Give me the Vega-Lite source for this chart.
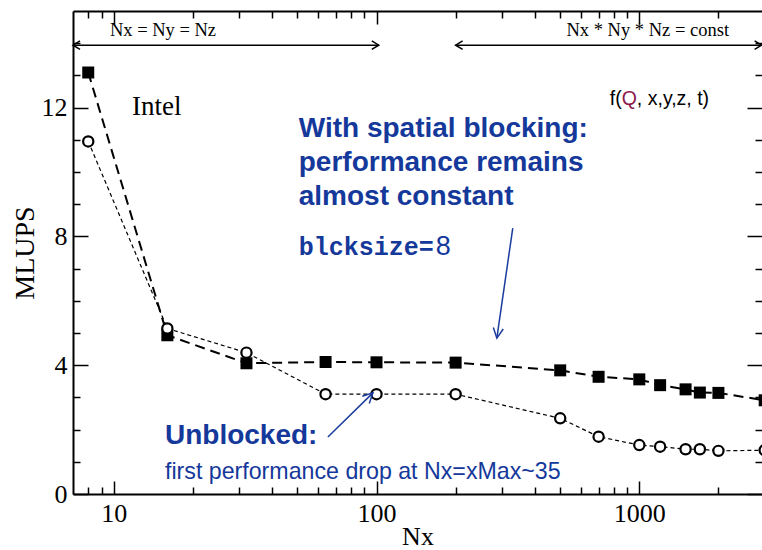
{
  "$schema": "https://vega.github.io/schema/vega-lite/v6.json",
  "width": 689,
  "height": 483,
  "autosize": "none",
  "padding": {"left": 73, "top": 11, "right": 0, "bottom": 56},
  "background": "white",
  "config": {
    "view": {"stroke": null},
    "axis": {
      "grid": false,
      "domain": false,
      "domainColor": "black",
      "domainWidth": 2,
      "tickColor": "black",
      "tickWidth": 1.5,
      "labelFont": "Liberation Serif",
      "labelFontSize": 26,
      "labelColor": "black",
      "labelFlush": false,
      "labelOverlap": false,
      "titleFont": "Liberation Serif",
      "titleFontWeight": "normal",
      "titleColor": "black"
    }
  },
  "datasets": {
    "perf": [
      {"Nx": 8, "MLUPS": 13.09, "variant": "blocked"},
      {"Nx": 16, "MLUPS": 4.93, "variant": "blocked"},
      {"Nx": 32, "MLUPS": 4.06, "variant": "blocked"},
      {"Nx": 64, "MLUPS": 4.1, "variant": "blocked"},
      {"Nx": 100, "MLUPS": 4.09, "variant": "blocked"},
      {"Nx": 200, "MLUPS": 4.08, "variant": "blocked"},
      {"Nx": 500, "MLUPS": 3.84, "variant": "blocked"},
      {"Nx": 700, "MLUPS": 3.64, "variant": "blocked"},
      {"Nx": 1000, "MLUPS": 3.56, "variant": "blocked"},
      {"Nx": 1200, "MLUPS": 3.38, "variant": "blocked"},
      {"Nx": 1500, "MLUPS": 3.25, "variant": "blocked"},
      {"Nx": 1700, "MLUPS": 3.15, "variant": "blocked"},
      {"Nx": 2000, "MLUPS": 3.14, "variant": "blocked"},
      {"Nx": 3000, "MLUPS": 2.91, "variant": "blocked"},
      {"Nx": 8, "MLUPS": 10.95, "variant": "unblocked"},
      {"Nx": 16, "MLUPS": 5.14, "variant": "unblocked"},
      {"Nx": 32, "MLUPS": 4.39, "variant": "unblocked"},
      {"Nx": 64, "MLUPS": 3.1, "variant": "unblocked"},
      {"Nx": 100, "MLUPS": 3.1, "variant": "unblocked"},
      {"Nx": 200, "MLUPS": 3.1, "variant": "unblocked"},
      {"Nx": 500, "MLUPS": 2.35, "variant": "unblocked"},
      {"Nx": 700, "MLUPS": 1.78, "variant": "unblocked"},
      {"Nx": 1000, "MLUPS": 1.52, "variant": "unblocked"},
      {"Nx": 1200, "MLUPS": 1.47, "variant": "unblocked"},
      {"Nx": 1500, "MLUPS": 1.39, "variant": "unblocked"},
      {"Nx": 1700, "MLUPS": 1.39, "variant": "unblocked"},
      {"Nx": 2000, "MLUPS": 1.34, "variant": "unblocked"},
      {"Nx": 3000, "MLUPS": 1.36, "variant": "unblocked"}
    ],
    "notes": [
      {"id": "intel", "Nx": 11.74, "MLUPS": 11.77, "text": "Intel"},
      {"id": "cubic", "Nx": 15.4, "MLUPS": 14.21, "text": "Nx = Ny = Nz"},
      {"id": "const", "Nx": 1077, "MLUPS": 14.21, "text": "Nx * Ny * Nz = const"},
      {"id": "blocked", "Nx": 50.6, "MLUPS": 11.09, "text": "With spatial blocking:"},
      {"id": "blocked", "Nx": 50.6, "MLUPS": 10.02, "text": "performance remains"},
      {"id": "blocked", "Nx": 50.6, "MLUPS": 8.98, "text": "almost constant"},
      {"id": "blcksize", "Nx": 50.6, "MLUPS": 7.41, "text": "blcksize="},
      {"id": "blcksizeValue", "Nx": 50.6, "MLUPS": 7.41, "text": "8"},
      {"id": "unblocked", "Nx": 15.67, "MLUPS": 1.55, "text": "Unblocked:"},
      {"id": "drop", "Nx": 15.67, "MLUPS": 0.466, "text": "first performance drop at Nx=xMax~35"},
      {"id": "fopen", "Nx": 772, "MLUPS": 12.08, "text": "f("},
      {"id": "fq", "Nx": 772, "MLUPS": 12.08, "text": "Q"},
      {"id": "fargs", "Nx": 772, "MLUPS": 12.08, "text": ", x,y,z, t)"}
    ],
    "arrows": [
      {"id": "cubic", "Nx": 7, "MLUPS": 13.94, "Nx2": 102, "MLUPS2": 13.94},
      {"id": "const", "Nx": 200, "MLUPS": 13.94, "Nx2": 2920, "MLUPS2": 13.94},
      {"id": "blockedArrow", "Nx": 330, "MLUPS": 8.26, "Nx2": 287, "MLUPS2": 4.84},
      {"id": "unblockedArrow", "Nx": 65.3, "MLUPS": 1.77, "Nx2": 96.9, "MLUPS2": 3.14}
    ]
  },
  "layer": [
    {
      "data": {"name": "perf"},
      "transform": [{"filter": "datum.variant === 'blocked'"}],
      "mark": {"type": "line", "color": "black", "strokeWidth": 2, "strokeDash": [10, 6]},
      "encoding": {
        "x": {"field": "Nx", "type": "quantitative",
          "scale": {"type": "log", "domain": [7, 2930], "nice": false},
          "axis": {"orient": "bottom", "values": [10, 100, 1000], "format": "d", "domain": true,
            "tickSize": -13, "labelPadding": 19, "title": "Nx", "titleFontSize": 26,
            "titleY": 50, "titleBaseline": "alphabetic"}},
        "y": {"field": "MLUPS", "type": "quantitative",
          "scale": {"domain": [0, 15], "nice": false},
          "axis": {"orient": "left", "values": [0, 4, 8, 12], "domain": true,
            "tickSize": -15, "labelPadding": 21, "title": "MLUPS", "titleFontSize": 28,
            "titleX": -40, "titleBaseline": "alphabetic"}}
      }
    },
    {
      "data": {"name": "perf"},
      "transform": [{"filter": "datum.variant === 'unblocked'"}],
      "mark": {"type": "line", "color": "black", "strokeWidth": 1.2, "strokeDash": [4, 3]},
      "encoding": {
        "x": {"field": "Nx", "type": "quantitative",
          "scale": {"type": "log", "domain": [7, 2930], "nice": false},
          "axis": {"orient": "top", "values": [10, 100, 1000], "domain": true,
            "tickSize": -13, "labels": false, "title": null}},
        "y": {"field": "MLUPS", "type": "quantitative",
          "scale": {"domain": [0, 15], "nice": false},
          "axis": {"orient": "right", "values": [0, 4, 8, 12],
            "tickSize": -15, "labels": false, "title": null}}
      }
    },
    {
      "data": {"name": "perf"},
      "transform": [{"filter": "datum.variant === 'blocked'"}],
      "mark": {"type": "point", "shape": "square", "filled": true, "color": "black", "size": 144, "opacity": 1},
      "encoding": {
        "x": {"field": "Nx", "type": "quantitative",
          "scale": {"type": "log", "domain": [7, 2930], "nice": false},
          "axis": {"orient": "bottom", "values": [8, 9, 20, 30, 40, 50, 60, 70, 80, 90, 200, 300, 400, 500, 600, 700, 800, 900, 2000],
            "tickSize": -7, "labels": false, "title": null}},
        "y": {"field": "MLUPS", "type": "quantitative",
          "scale": {"domain": [0, 15], "nice": false},
          "axis": {"orient": "left", "values": [1, 2, 3, 5, 6, 7, 9, 10, 11, 13, 14],
            "tickSize": -7, "labels": false, "title": null}}
      }
    },
    {
      "data": {"name": "perf"},
      "transform": [{"filter": "datum.variant === 'unblocked'"}],
      "mark": {"type": "point", "shape": "circle", "filled": true, "fill": "white", "stroke": "black", "strokeWidth": 2.2, "size": 105, "opacity": 1},
      "encoding": {
        "x": {"field": "Nx", "type": "quantitative",
          "scale": {"type": "log", "domain": [7, 2930], "nice": false},
          "axis": {"orient": "top", "values": [8, 9, 20, 30, 40, 50, 60, 70, 80, 90, 200, 300, 400, 500, 600, 700, 800, 900, 2000],
            "tickSize": -7, "labels": false, "title": null}},
        "y": {"field": "MLUPS", "type": "quantitative",
          "scale": {"domain": [0, 15], "nice": false},
          "axis": {"orient": "right", "values": [1, 2, 3, 5, 6, 7, 9, 10, 11, 13, 14],
            "tickSize": -7, "labels": false, "title": null}}
      }
    },
    {
      "data": {"name": "arrows"},
      "transform": [{"filter": "datum.id === 'cubic' || datum.id === 'const'"}],
      "mark": {"type": "rule", "color": "black", "strokeWidth": 1.5},
      "encoding": {
        "x": {"field": "Nx", "type": "quantitative", "scale": {"type": "log", "domain": [7, 2930], "nice": false}, "axis": null},
        "x2": {"field": "Nx2"},
        "y": {"field": "MLUPS", "type": "quantitative", "scale": {"domain": [0, 15], "nice": false}, "axis": null},
        "y2": {"field": "MLUPS2"}
      }
    },
    {
      "data": {"name": "arrows"},
      "transform": [{"filter": "datum.id === 'cubic' || datum.id === 'const'"}],
      "mark": {"type": "point", "shape": "M-1,-0.6L0,0L-1,0.6", "filled": false, "color": "black", "strokeWidth": 1.5, "size": 196, "opacity": 1, "angle": 0},
      "encoding": {
        "x": {"field": "Nx2", "type": "quantitative", "scale": {"type": "log", "domain": [7, 2930], "nice": false}, "axis": null},
        "y": {"field": "MLUPS2", "type": "quantitative", "scale": {"domain": [0, 15], "nice": false}, "axis": null}
      }
    },
    {
      "data": {"name": "arrows"},
      "transform": [{"filter": "datum.id === 'cubic' || datum.id === 'const'"}],
      "mark": {"type": "point", "shape": "M-1,-0.6L0,0L-1,0.6", "filled": false, "color": "black", "strokeWidth": 1.5, "size": 196, "opacity": 1, "angle": 180},
      "encoding": {
        "x": {"field": "Nx", "type": "quantitative", "scale": {"type": "log", "domain": [7, 2930], "nice": false}, "axis": null},
        "y": {"field": "MLUPS", "type": "quantitative", "scale": {"domain": [0, 15], "nice": false}, "axis": null}
      }
    },
    {
      "data": {"name": "arrows"},
      "transform": [{"filter": "datum.id === 'blockedArrow' || datum.id === 'unblockedArrow'"}],
      "mark": {"type": "rule", "color": "#1a3c9e", "strokeWidth": 1.5},
      "encoding": {
        "x": {"field": "Nx", "type": "quantitative", "scale": {"type": "log", "domain": [7, 2930], "nice": false}, "axis": null},
        "x2": {"field": "Nx2"},
        "y": {"field": "MLUPS", "type": "quantitative", "scale": {"domain": [0, 15], "nice": false}, "axis": null},
        "y2": {"field": "MLUPS2"}
      }
    },
    {
      "data": {"name": "arrows"},
      "transform": [{"filter": "datum.id === 'blockedArrow'"}],
      "mark": {"type": "point", "shape": "M-1,-0.5L0,0L-1,0.5", "filled": false, "color": "#1a3c9e", "strokeWidth": 1.5, "size": 400, "opacity": 1, "angle": 98.3},
      "encoding": {
        "x": {"field": "Nx2", "type": "quantitative", "scale": {"type": "log", "domain": [7, 2930], "nice": false}, "axis": null},
        "y": {"field": "MLUPS2", "type": "quantitative", "scale": {"domain": [0, 15], "nice": false}, "axis": null}
      }
    },
    {
      "data": {"name": "arrows"},
      "transform": [{"filter": "datum.id === 'unblockedArrow'"}],
      "mark": {"type": "point", "shape": "M-1,-0.5L0,0L-1,0.5", "filled": false, "color": "#1a3c9e", "strokeWidth": 1.5, "size": 400, "opacity": 1, "angle": 315.6},
      "encoding": {
        "x": {"field": "Nx2", "type": "quantitative", "scale": {"type": "log", "domain": [7, 2930], "nice": false}, "axis": null},
        "y": {"field": "MLUPS2", "type": "quantitative", "scale": {"domain": [0, 15], "nice": false}, "axis": null}
      }
    },
    {
      "data": {"name": "notes"},
      "transform": [{"filter": "datum.id === 'intel'"}],
      "mark": {"type": "text", "font": "Liberation Serif", "fontSize": 27, "color": "black", "align": "left", "baseline": "alphabetic"},
      "encoding": {
        "x": {"field": "Nx", "type": "quantitative", "scale": {"type": "log", "domain": [7, 2930], "nice": false}, "axis": null},
        "y": {"field": "MLUPS", "type": "quantitative", "scale": {"domain": [0, 15], "nice": false}, "axis": null},
        "text": {"field": "text"}
      }
    },
    {
      "data": {"name": "notes"},
      "transform": [{"filter": "datum.id === 'cubic' || datum.id === 'const'"}],
      "mark": {"type": "text", "font": "Liberation Serif", "fontSize": 18.5, "color": "black", "align": "center", "baseline": "alphabetic"},
      "encoding": {
        "x": {"field": "Nx", "type": "quantitative", "scale": {"type": "log", "domain": [7, 2930], "nice": false}, "axis": null},
        "y": {"field": "MLUPS", "type": "quantitative", "scale": {"domain": [0, 15], "nice": false}, "axis": null},
        "text": {"field": "text"}
      }
    },
    {
      "data": {"name": "notes"},
      "transform": [{"filter": "datum.id === 'blocked' || datum.id === 'unblocked'"}],
      "mark": {"type": "text", "font": "Liberation Sans", "fontWeight": "bold", "fontSize": 28, "color": "#15389b", "align": "left", "baseline": "alphabetic"},
      "encoding": {
        "x": {"field": "Nx", "type": "quantitative", "scale": {"type": "log", "domain": [7, 2930], "nice": false}, "axis": null},
        "y": {"field": "MLUPS", "type": "quantitative", "scale": {"domain": [0, 15], "nice": false}, "axis": null},
        "text": {"field": "text"}
      }
    },
    {
      "data": {"name": "notes"},
      "transform": [{"filter": "datum.id === 'drop'"}],
      "mark": {"type": "text", "font": "Liberation Sans", "fontSize": 23.2, "color": "#15389b", "align": "left", "baseline": "alphabetic"},
      "encoding": {
        "x": {"field": "Nx", "type": "quantitative", "scale": {"type": "log", "domain": [7, 2930], "nice": false}, "axis": null},
        "y": {"field": "MLUPS", "type": "quantitative", "scale": {"domain": [0, 15], "nice": false}, "axis": null},
        "text": {"field": "text"}
      }
    },
    {
      "data": {"name": "notes"},
      "transform": [{"filter": "datum.id === 'blcksize'"}],
      "mark": {"type": "text", "font": "Liberation Mono", "fontWeight": "bold", "fontSize": 25, "color": "#15389b", "align": "left", "baseline": "alphabetic"},
      "encoding": {
        "x": {"field": "Nx", "type": "quantitative", "scale": {"type": "log", "domain": [7, 2930], "nice": false}, "axis": null},
        "y": {"field": "MLUPS", "type": "quantitative", "scale": {"domain": [0, 15], "nice": false}, "axis": null},
        "text": {"field": "text"}
      }
    },
    {
      "data": {"name": "notes"},
      "transform": [{"filter": "datum.id === 'blcksizeValue'"}],
      "mark": {"type": "text", "font": "Liberation Sans", "fontSize": 27, "color": "#15389b", "align": "left", "baseline": "alphabetic", "dx": 137},
      "encoding": {
        "x": {"field": "Nx", "type": "quantitative", "scale": {"type": "log", "domain": [7, 2930], "nice": false}, "axis": null},
        "y": {"field": "MLUPS", "type": "quantitative", "scale": {"domain": [0, 15], "nice": false}, "axis": null},
        "text": {"field": "text"}
      }
    },
    {
      "data": {"name": "notes"},
      "transform": [{"filter": "datum.id === 'fopen'"}],
      "mark": {"type": "text", "font": "Liberation Sans", "fontSize": 19.5, "color": "black", "align": "left", "baseline": "alphabetic"},
      "encoding": {
        "x": {"field": "Nx", "type": "quantitative", "scale": {"type": "log", "domain": [7, 2930], "nice": false}, "axis": null},
        "y": {"field": "MLUPS", "type": "quantitative", "scale": {"domain": [0, 15], "nice": false}, "axis": null},
        "text": {"field": "text"}
      }
    },
    {
      "data": {"name": "notes"},
      "transform": [{"filter": "datum.id === 'fq'"}],
      "mark": {"type": "text", "font": "Liberation Sans", "fontSize": 19.5, "color": "#8b1a4b", "align": "left", "baseline": "alphabetic", "dx": 11.9},
      "encoding": {
        "x": {"field": "Nx", "type": "quantitative", "scale": {"type": "log", "domain": [7, 2930], "nice": false}, "axis": null},
        "y": {"field": "MLUPS", "type": "quantitative", "scale": {"domain": [0, 15], "nice": false}, "axis": null},
        "text": {"field": "text"}
      }
    },
    {
      "data": {"name": "notes"},
      "transform": [{"filter": "datum.id === 'fargs'"}],
      "mark": {"type": "text", "font": "Liberation Sans", "fontSize": 19.5, "color": "black", "align": "left", "baseline": "alphabetic", "dx": 27.1},
      "encoding": {
        "x": {"field": "Nx", "type": "quantitative", "scale": {"type": "log", "domain": [7, 2930], "nice": false}, "axis": null},
        "y": {"field": "MLUPS", "type": "quantitative", "scale": {"domain": [0, 15], "nice": false}, "axis": null},
        "text": {"field": "text"}
      }
    }
  ],
  "resolve": {"axis": {"x": "independent", "y": "independent"}}
}
